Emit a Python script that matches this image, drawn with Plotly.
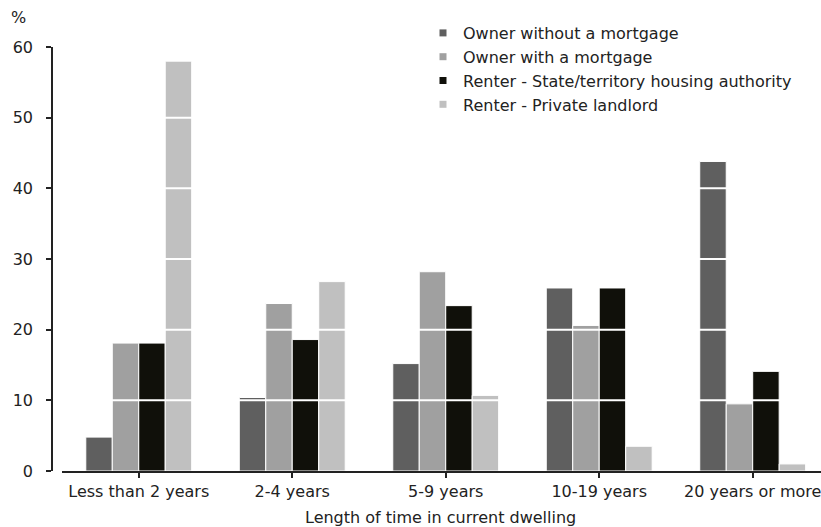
import plotly.graph_objects as go

categories = ["Less than 2 years", "2-4 years", "5-9 years", "10-19 years", "20 years or more"]
series_names = ["Owner without a mortgage", "Owner with a mortgage",
                "Renter - State/territory housing authority", "Renter - Private landlord"]
owner_no_mortgage = [4.8, 10.4, 15.2, 25.9, 43.8]
owner_mortgage = [18.1, 23.7, 28.2, 20.6, 9.5]
renter_state = [18.1, 18.6, 23.4, 25.9, 14.1]
renter_private = [58.0, 26.8, 10.7, 3.5, 1.0]
y_ticks = [0, 10, 20, 30, 40, 50, 60]

colors = ["#5f5f5f", "#a0a0a0", "#10100a", "#c0c0c0"]
values = [owner_no_mortgage, owner_mortgage, renter_state, renter_private]

W, H = 821, 527
L, R, T, B = 52, 0, 47, 56
plot_w = W - L - R
plot_h = H - T - B


def px_x(px):
    return (px - L) / plot_w


def px_y(py):
    return (H - B - py) / plot_h


fig = go.Figure()
for name, vals, col in zip(series_names, values, colors):
    fig.add_trace(go.Bar(x=categories, y=vals, name=name, showlegend=False,
                         marker=dict(color=col, line=dict(color="white", width=1))))
for name, col in zip(series_names, colors):
    fig.add_trace(go.Scatter(x=[None], y=[None], mode="markers", name=name,
                             marker=dict(symbol="square", size=7, color=col)))

font = dict(family="DejaVu Sans", size=16, color="#222222")

for yv in y_ticks[1:-1]:
    fig.add_shape(type="line", xref="x domain", yref="y", x0=0, x1=1, y0=yv, y1=yv,
                  line=dict(color="white", width=2), layer="above")

fig.update_layout(
    width=W, height=H, margin=dict(l=L, r=R, t=T, b=B, autoexpand=False),
    paper_bgcolor="white", plot_bgcolor="white",
    font=font, barmode="group", bargap=0.31, bargroupgap=0,
    legend=dict(xref="container", yref="container", x=423 / W, y=1 - 16 / H,
                xanchor="left", yanchor="top", font=font, bgcolor="rgba(0,0,0,0)",
                itemwidth=30, tracegroupgap=0),
    xaxis=dict(domain=[10 / plot_w, 1], range=[-0.5, 4.445], showgrid=False,
               showline=True, linecolor="#222222", linewidth=2,
               ticks="outside", ticklen=5, tickcolor="#222222", tickwidth=1.5,
               tickfont=font, tickangle=0, automargin=False, fixedrange=True),
    yaxis=dict(anchor="free", position=0, range=[0, 60], tickvals=y_ticks,
               showgrid=False, zeroline=False, showline=True, linecolor="#222222",
               linewidth=1.5, ticks="outside", ticklen=5, tickcolor="#222222",
               tickwidth=1.5, tickfont=font, ticklabelstandoff=10, automargin=False),
    annotations=[
        dict(text="%", xref="paper", yref="paper", x=px_x(18), y=px_y(18),
             showarrow=False, font=font, xanchor="center", yanchor="middle"),
        dict(text="Length of time in current dwelling", xref="paper", yref="paper",
             x=px_x(441), y=px_y(517), showarrow=False, font=font,
             xanchor="center", yanchor="middle"),
    ],
)

fig.write_html("out.html", config={"displayModeBar": False},
               post_script="document.body.style.margin='0';")
